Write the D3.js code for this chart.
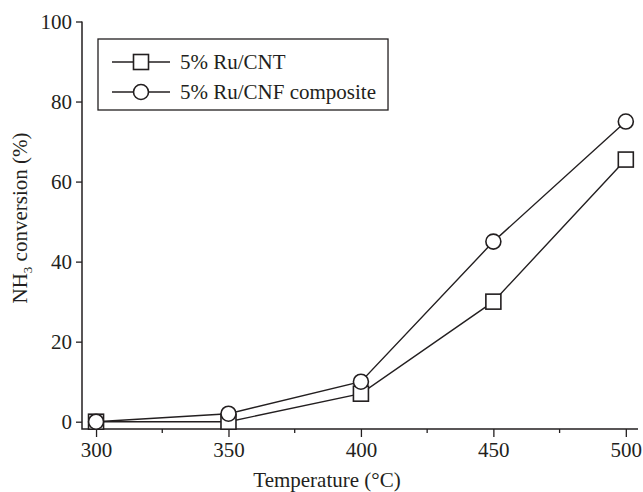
<!DOCTYPE html>
<html>
<head>
<meta charset="utf-8">
<script src="https://cdn.jsdelivr.net/npm/d3@7"></script>
<style>
  body { margin: 0; background: #fff; }
  svg { display: block; }
  svg text { font-family: "Liberation Serif", "Times New Roman", serif; }
</style>
</head>
<body>
<svg id="chart" width="643" height="492"></svg>
<script>
// data
var temps = [300, 350, 400, 450, 500]
var cnt = [0, 0, 7, 30, 65.5]
var cnf = [0, 2, 10, 45, 75]
var seriesNames = ['5% Ru/CNT', '5% Ru/CNF composite']
var xTicks = [300, 350, 400, 450, 500]
var xMinor = [325, 375, 425, 475]
var yTicks = [0, 20, 40, 60, 80, 100]

var ink = '#231f20'
var serif = '"Liberation Serif", "Times New Roman", serif'
var svg = d3.select('#chart')

// axis box: y axis at x=82, x axis at y=429
var x = d3.scaleLinear().domain([294.7, 504.6]).range([82, 638])
var y = d3.scaleLinear().domain([0, 100]).range([421.7, 21.5])
var x0 = 82, y0 = 429

// x axis
var gx = svg.append('g').attr('transform', 'translate(0,' + y0 + ')')
gx.call(d3.axisBottom(x).tickValues(xTicks).tickSize(8).tickSizeOuter(0).tickPadding(5))
gx.attr('font-family', serif).attr('font-size', 21)
gx.select('.domain').remove()
gx.selectAll('.tick line').attr('stroke', ink).attr('stroke-width', 1.3)
gx.selectAll('.tick text').attr('fill', ink).style('font-family', serif)
gx.selectAll('.minor').data(xMinor).enter().append('line')
    .attr('x1', d => x(d)).attr('x2', d => x(d))
    .attr('y1', 0).attr('y2', 4)
    .attr('stroke', ink).attr('stroke-width', 1.3)

// y axis
var gy = svg.append('g').attr('transform', 'translate(' + x0 + ',0)')
gy.call(d3.axisLeft(y).tickValues(yTicks).tickSize(6).tickSizeOuter(0).tickPadding(4))
gy.attr('font-family', serif).attr('font-size', 21)
gy.select('.domain').remove()
gy.selectAll('.tick line').attr('stroke', ink).attr('stroke-width', 1.3)
gy.selectAll('.tick text').attr('fill', ink).style('font-family', serif)

// axis lines
svg.append('path')
    .attr('d', 'M' + x0 + ',' + y(100) + 'V' + y0 + 'H' + x.range()[1])
    .attr('fill', 'none').attr('stroke', ink).attr('stroke-width', 1.5)

// axis titles
svg.append('text')
    .attr('x', 327).attr('y', 487)
    .attr('text-anchor', 'middle').attr('font-size', 21).attr('fill', ink)
    .text('Temperature (°C)')

var yl = svg.append('text')
    .attr('transform', 'translate(27,218) rotate(-90)')
    .attr('text-anchor', 'middle').attr('font-size', 21).attr('fill', ink)
yl.append('tspan').text('NH')
yl.append('tspan').attr('font-size', 13).attr('dy', 5).text('3')
yl.append('tspan').attr('dy', -5).text(' conversion (%)')

// lines and markers
var line = d3.line().x(d => x(d[0])).y(d => y(d[1]))
var sq = 15, cr = 7.5

function drawSeries(vals, shape) {
    var pts = temps.map((t, i) => [t, vals[i]])
    svg.append('path').attr('d', line(pts))
        .attr('fill', 'none').attr('stroke', ink).attr('stroke-width', 1.4)
    var g = svg.append('g')
    if (shape == 'square') {
        g.selectAll('rect').data(pts).enter().append('rect')
            .attr('x', d => x(d[0]) - sq / 2).attr('y', d => y(d[1]) - sq / 2)
            .attr('width', sq).attr('height', sq)
            .attr('fill', '#fff').attr('stroke', ink).attr('stroke-width', 1.6)
    } else {
        g.selectAll('circle').data(pts).enter().append('circle')
            .attr('cx', d => x(d[0])).attr('cy', d => y(d[1])).attr('r', cr)
            .attr('fill', '#fff').attr('stroke', ink).attr('stroke-width', 1.6)
    }
}
drawSeries(cnt, 'square')
drawSeries(cnf, 'circle')

// legend
var leg = svg.append('g')
var box = leg.append('rect')
    .attr('x', 98).attr('y', 39).attr('height', 71)
    .attr('fill', '#fff').attr('stroke', ink).attr('stroke-width', 1.3)
var rows = [62, 92]
var maxRight = 0
seriesNames.forEach((name, i) => {
    var cy = rows[i]
    leg.append('line').attr('x1', 112).attr('x2', 170).attr('y1', cy).attr('y2', cy)
        .attr('stroke', ink).attr('stroke-width', 1.4)
    if (i == 0) {
        leg.append('rect').attr('x', 141 - sq / 2).attr('y', cy - sq / 2)
            .attr('width', sq).attr('height', sq)
            .attr('fill', '#fff').attr('stroke', ink).attr('stroke-width', 1.6)
    } else {
        leg.append('circle').attr('cx', 141).attr('cy', cy).attr('r', cr)
            .attr('fill', '#fff').attr('stroke', ink).attr('stroke-width', 1.6)
    }
    var t = leg.append('text').attr('x', 180).attr('y', cy + 7)
        .attr('font-size', 21).attr('fill', ink).text(name)
    var bb = t.node().getBBox()
    maxRight = Math.max(maxRight, bb.x + bb.width)
})
box.attr('width', maxRight + 12 - 98)
</script>
</body>
</html>
